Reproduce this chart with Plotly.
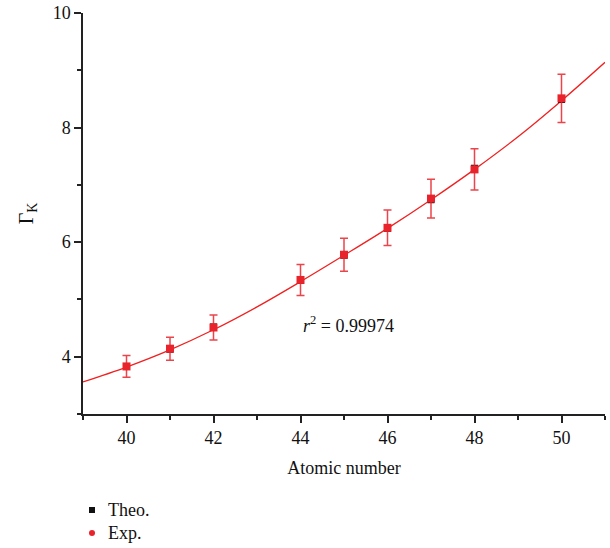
import plotly.graph_objects as go

# Data
z = [40, 41, 42, 44, 45, 46, 47, 48, 50]
theo = [3.83, 4.13, 4.52, 5.33, 5.77, 6.24, 6.74, 7.29, 8.49]
exp_vals = [3.83, 4.14, 4.51, 5.34, 5.78, 6.25, 6.76, 7.27, 8.51]
exp_err = [0.19, 0.20, 0.22, 0.27, 0.29, 0.31, 0.34, 0.36, 0.42]

fit_z = [39, 40, 41, 42, 43, 44, 45, 46, 47, 48, 49, 50, 51]
fit_vals = [3.56, 3.82, 4.12, 4.47, 4.87, 5.31, 5.77, 6.24, 6.74, 7.27, 7.84, 8.47, 9.14]

x_ticks = [40, 42, 44, 46, 48, 50]
y_ticks = [4, 6, 8, 10]
legend_names = ["Theo.", "Exp."]

FONT = "Liberation Serif"
RED = "#e8232b"

fig = go.Figure()

fig.add_trace(go.Scatter(
    x=fit_z, y=fit_vals, mode="lines", line=dict(color="#f02020", width=1.3, shape="spline"),
    showlegend=False, hoverinfo="skip"))

fig.add_trace(go.Scatter(
    x=z, y=theo, mode="markers", name=legend_names[0], showlegend=False,
    marker=dict(symbol="square", size=7, color="#111111")))

fig.add_trace(go.Scatter(
    x=z, y=exp_vals, mode="markers", name=legend_names[1], showlegend=False,
    marker=dict(symbol="square", size=8, color=RED),
    error_y=dict(type="data", array=exp_err, color="rgba(232,35,43,0.85)", thickness=1.5, width=4)))

fig.add_annotation(
    x=44.0, y=4.57, xref="x", yref="y", xanchor="left", yanchor="middle", showarrow=False,
    text="<i>r</i><sup>2</sup> = 0.99974", font=dict(family=FONT, size=18, color="#111111"))

# Manual legend below the plot (paper coords; plot area 522 x 401 px)
W, H = 522.0, 401.0
def px_x(px):
    return (px - 83.0) / W
def px_y(py):
    return (414.0 - py) / H

legend_rows = [(510, "square", "#111111"), (533, "circle", RED)]
for (py, sym, col), name in zip(legend_rows, legend_names):
    fig.add_annotation(x=px_x(106), y=px_y(py), xref="paper", yref="paper", xanchor="left",
                       yanchor="middle", showarrow=False, text=name,
                       font=dict(family=FONT, size=18, color="#111111"))
    fig.add_shape(type="rect" if sym == "square" else "circle", xref="paper", yref="paper",
                  xsizemode="pixel", ysizemode="pixel", xanchor=px_x(92), yanchor=px_y(py),
                  x0=-3, x1=3, y0=-3, y1=3, fillcolor=col, line=dict(width=0))

axis_common = dict(showgrid=False, zeroline=False, linecolor="#222222", linewidth=1.5,
                   tickcolor="#222222", tickwidth=1.5, automargin=False,
                   tickfont=dict(family=FONT, size=18, color="#111111"))

fig.update_layout(
    width=610, height=548,
    margin=dict(l=83, r=5, t=13, b=134),
    paper_bgcolor="white", plot_bgcolor="white",
    xaxis=dict(range=[39, 51], tickvals=x_ticks, ticks="outside", ticklen=7,
               minor=dict(dtick=1, tick0=39, ticks="outside", ticklen=4, tickcolor="#222222", tickwidth=1.5),
               title=dict(text="Atomic number", font=dict(family=FONT, size=18, color="#111111"), standoff=14),
               showline=True, **axis_common),
    yaxis=dict(range=[3, 10], tickvals=y_ticks, ticks="outside", ticklen=7,
               minor=dict(dtick=1, tick0=3, ticks="outside", ticklen=4, tickcolor="#222222", tickwidth=1.5),
               title=dict(text="Γ<sub>K</sub>", font=dict(family=FONT, size=20, color="#111111"), standoff=14),
               showline=True, **axis_common),
    xaxis2=dict(range=[39, 51], overlaying="x", side="top", tickvals=x_ticks, ticks="inside", ticklen=4,
                showticklabels=False, showline=True, automargin=False,
                minor=dict(dtick=1, tick0=39, ticks="inside", ticklen=3, tickcolor="#444444", tickwidth=1.2),
                showgrid=False, zeroline=False, linecolor="#444444", linewidth=1.5, tickcolor="#444444"),
    yaxis2=dict(range=[3, 10], overlaying="y", side="right", tickvals=y_ticks, ticks="inside", ticklen=4,
                showticklabels=False, showline=True, automargin=False,
                minor=dict(dtick=1, tick0=3, ticks="inside", ticklen=3, tickcolor="#444444", tickwidth=1.2),
                showgrid=False, zeroline=False, linecolor="#444444", linewidth=1.5, tickcolor="#444444"),
    showlegend=False,
)

fig.write_html("out.html", config={"displayModeBar": False},
               post_script="document.body.style.margin='0';document.body.style.overflow='hidden';")
